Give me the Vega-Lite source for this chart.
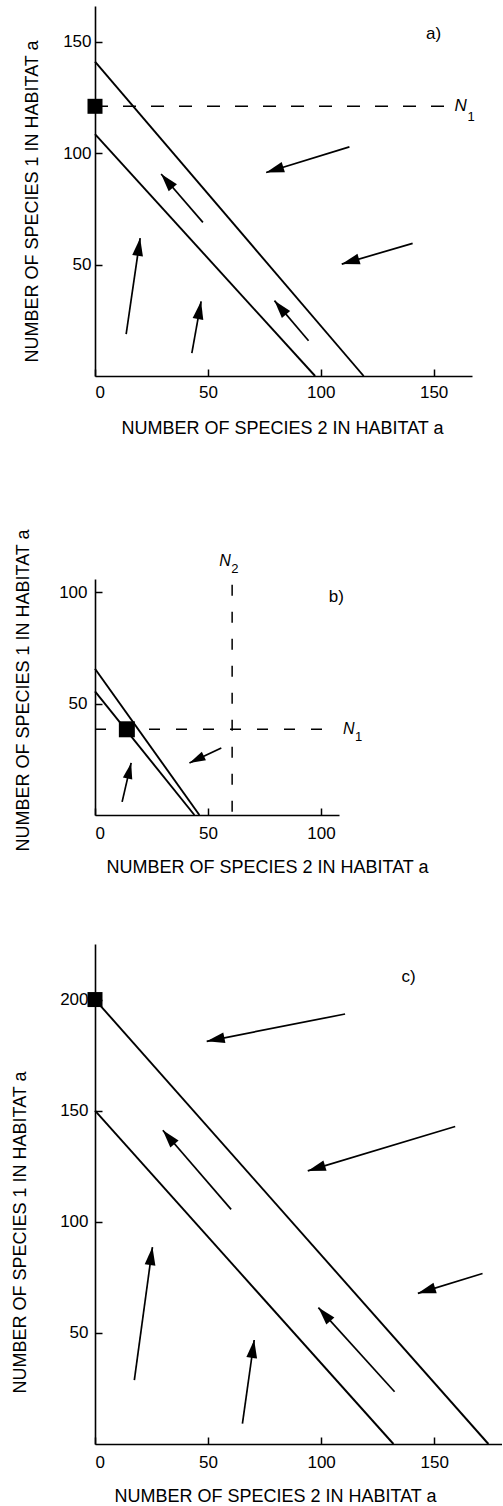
{
  "$schema": "https://vega.github.io/schema/vega-lite/v6.json",
  "background": "white",
  "padding": {"left": 11, "top": 6, "right": 0, "bottom": 0},
  "spacing": 68,
  "config": {
    "view": {"stroke": null},
    "axis": {
      "grid": false,
      "domainColor": "black", "domainWidth": 1.6,
      "tickColor": "black", "tickWidth": 1.5, "tickSize": -7,
      "labelFont": "Liberation Sans", "labelFontSize": 17, "labelColor": "black",
      "titleFont": "Liberation Sans", "titleFontSize": 18, "titleFontWeight": "normal", "titleColor": "black",
      "titleBaseline": "middle"
    },
    "text": {"font": "Liberation Sans", "color": "black"}
  },
  "datasets": {
    "isoclines": [
      {"panel": "a", "x": 0, "y": 141, "x2": 119, "y2": 0},
      {"panel": "a", "x": 0, "y": 108.5, "x2": 97.5, "y2": 0},
      {"panel": "b", "x": 0, "y": 65.7, "x2": 46.2, "y2": 0},
      {"panel": "b", "x": 0, "y": 55.5, "x2": 44, "y2": 0},
      {"panel": "c", "x": 0, "y": 200, "x2": 174, "y2": 0},
      {"panel": "c", "x": 0, "y": 150, "x2": 132, "y2": 0}
    ],
    "dashes": [
      {"panel": "a", "x": 0, "y": 121, "x2": 155.5, "y2": 121},
      {"panel": "b", "x": 0, "y": 38.5, "x2": 105.4, "y2": 38.5},
      {"panel": "b", "x": 60.7, "y": 103.4, "x2": 60.7, "y2": 0}
    ],
    "arrows": [
      {"panel": "a", "x": 75.8, "y": 91.3, "x2": 112.7, "y2": 102.8},
      {"panel": "a", "x": 29.3, "y": 90.6, "x2": 47.8, "y2": 68.9},
      {"panel": "a", "x": 109.3, "y": 50.2, "x2": 140.7, "y2": 59.5},
      {"panel": "a", "x": 20.0, "y": 61.9, "x2": 13.8, "y2": 18.8},
      {"panel": "a", "x": 47.0, "y": 33.5, "x2": 42.9, "y2": 10.3},
      {"panel": "a", "x": 79.5, "y": 33.8, "x2": 94.6, "y2": 15.8},
      {"panel": "b", "x": 41.8, "y": 23.4, "x2": 55.9, "y2": 30.1},
      {"panel": "b", "x": 16.0, "y": 23.4, "x2": 12.0, "y2": 5.9},
      {"panel": "c", "x": 49.4, "y": 181.2, "x2": 110.6, "y2": 193.5},
      {"panel": "c", "x": 94.1, "y": 122.9, "x2": 159.3, "y2": 142.9},
      {"panel": "c", "x": 30.0, "y": 141.2, "x2": 60.2, "y2": 105.6},
      {"panel": "c", "x": 142.8, "y": 67.8, "x2": 171.4, "y2": 76.7},
      {"panel": "c", "x": 25.4, "y": 88.6, "x2": 17.4, "y2": 28.7},
      {"panel": "c", "x": 98.8, "y": 61.4, "x2": 132.5, "y2": 23.5},
      {"panel": "c", "x": 70.4, "y": 46.8, "x2": 65.2, "y2": 9.2}
    ],
    "squares": [
      {"panel": "a", "x": 0, "y": 121},
      {"panel": "b", "x": 14.1, "y": 38.5},
      {"panel": "c", "x": 0, "y": 200}
    ],
    "labels": [
      {"panel": "a", "x": 150, "y": 153.4, "label": "a)"},
      {"panel": "b", "x": 106.8, "y": 97.8, "label": "b)"},
      {"panel": "c", "x": 138.7, "y": 210.1, "label": "c)"}
    ],
    "nlabels": [
      {"panel": "a", "x": 159.3, "y": 121, "n": "N", "sub": "1"},
      {"panel": "b", "x": 109.8, "y": 38.8, "n": "N", "sub": "1"},
      {"panel": "b", "x": 55, "y": 114.3, "n": "N", "sub": "2"}
    ]
  },
  "vconcat": [
    {
      "width": 377, "height": 370,
      "title": {"text": " ", "orient": "bottom", "fontSize": 12, "offset": 12},
      "encoding": {
        "x": {"field": "x", "type": "quantitative", "scale": {"domain": [0, 167], "nice": false, "zero": false},
          "axis": {"values": [0, 50, 100, 150], "labelPadding": 15, "title": "NUMBER OF SPECIES 2 IN HABITAT a", "titleX": 187, "titleY": 52}},
        "y": {"field": "y", "type": "quantitative", "scale": {"domain": [0, 166], "nice": false, "zero": false},
          "axis": {"values": [50, 100, 150], "labelPadding": 11, "title": "NUMBER OF SPECIES 1 IN HABITAT a", "titleX": -63, "titleY": 195}}
      },
      "layer": [
        {"data": {"name": "isoclines"}, "transform": [{"filter": "datum.panel === 'a'"}],
         "mark": {"type": "rule", "color": "black", "strokeWidth": 1.9}, "encoding": {"x2": {"field": "x2"}, "y2": {"field": "y2"}}},
        {"data": {"name": "dashes"}, "transform": [{"filter": "datum.panel === 'a'"}],
         "mark": {"type": "rule", "color": "black", "strokeWidth": 1.5, "strokeDash": [13, 15]}, "encoding": {"x2": {"field": "x2"}, "y2": {"field": "y2"}}},
        {"data": {"name": "arrows"}, "transform": [{"filter": "datum.panel === 'a'"}],
         "mark": {"type": "rule", "color": "black", "strokeWidth": 1.7}, "encoding": {"x2": {"field": "x2"}, "y2": {"field": "y2"}}},
        {"data": {"name": "arrows"}, "transform": [{"filter": "datum.panel === 'a'"}, {"calculate": "atan2(datum.x - datum.x2, datum.y - datum.y2) * 180 / PI", "as": "ang"}],
         "mark": {"type": "point", "shape": "M0,0L0.3,1L-0.3,1Z", "filled": true, "color": "black", "opacity": 1, "size": 1296, "strokeWidth": 0},
         "encoding": {"angle": {"field": "ang", "type": "quantitative", "scale": null}}},
        {"data": {"name": "squares"}, "transform": [{"filter": "datum.panel === 'a'"}],
         "mark": {"type": "point", "shape": "square", "filled": true, "color": "black", "opacity": 1, "size": 225}},
        {"data": {"name": "labels"}, "transform": [{"filter": "datum.panel === 'a'"}],
         "mark": {"type": "text", "fontSize": 17, "align": "center", "baseline": "middle"}, "encoding": {"text": {"field": "label"}}},
        {"data": {"name": "nlabels"}, "transform": [{"filter": "datum.panel === 'a'"}],
         "mark": {"type": "text", "fontSize": 17, "fontStyle": "italic", "align": "left", "baseline": "middle"}, "encoding": {"text": {"field": "n"}}},
        {"data": {"name": "nlabels"}, "transform": [{"filter": "datum.panel === 'a'"}],
         "mark": {"type": "text", "fontSize": 13, "align": "left", "baseline": "middle", "dx": 13, "dy": 11}, "encoding": {"text": {"field": "sub"}}}
      ]
    },
    {
      "width": 244, "height": 236,
      "encoding": {
        "x": {"field": "x", "type": "quantitative", "scale": {"domain": [0, 108], "nice": false, "zero": false},
          "axis": {"values": [0, 50, 100], "labelPadding": 17, "title": "NUMBER OF SPECIES 2 IN HABITAT a", "titleX": 172, "titleY": 52}},
        "y": {"field": "y", "type": "quantitative", "scale": {"domain": [0, 106], "nice": false, "zero": false},
          "axis": {"values": [50, 100], "labelPadding": 15, "title": "NUMBER OF SPECIES 1 IN HABITAT a", "titleX": -72, "titleY": 111}}
      },
      "layer": [
        {"data": {"name": "isoclines"}, "transform": [{"filter": "datum.panel === 'b'"}],
         "mark": {"type": "rule", "color": "black", "strokeWidth": 1.9}, "encoding": {"x2": {"field": "x2"}, "y2": {"field": "y2"}}},
        {"data": {"name": "dashes"}, "transform": [{"filter": "datum.panel === 'b'"}],
         "mark": {"type": "rule", "color": "black", "strokeWidth": 1.5, "strokeDash": [11, 16]}, "encoding": {"x2": {"field": "x2"}, "y2": {"field": "y2"}}},
        {"data": {"name": "arrows"}, "transform": [{"filter": "datum.panel === 'b'"}],
         "mark": {"type": "rule", "color": "black", "strokeWidth": 1.7}, "encoding": {"x2": {"field": "x2"}, "y2": {"field": "y2"}}},
        {"data": {"name": "arrows"}, "transform": [{"filter": "datum.panel === 'b'"}, {"calculate": "atan2(datum.x - datum.x2, datum.y - datum.y2) * 180 / PI", "as": "ang"}],
         "mark": {"type": "point", "shape": "M0,0L0.3,1L-0.3,1Z", "filled": true, "color": "black", "opacity": 1, "size": 1024, "strokeWidth": 0},
         "encoding": {"angle": {"field": "ang", "type": "quantitative", "scale": null}}},
        {"data": {"name": "squares"}, "transform": [{"filter": "datum.panel === 'b'"}],
         "mark": {"type": "point", "shape": "square", "filled": true, "color": "black", "opacity": 1, "size": 256}},
        {"data": {"name": "labels"}, "transform": [{"filter": "datum.panel === 'b'"}],
         "mark": {"type": "text", "fontSize": 17, "align": "center", "baseline": "middle"}, "encoding": {"text": {"field": "label"}}},
        {"data": {"name": "nlabels"}, "transform": [{"filter": "datum.panel === 'b'"}],
         "mark": {"type": "text", "fontSize": 16, "fontStyle": "italic", "align": "left", "baseline": "middle"}, "encoding": {"text": {"field": "n"}}},
        {"data": {"name": "nlabels"}, "transform": [{"filter": "datum.panel === 'b'"}],
         "mark": {"type": "text", "fontSize": 13, "align": "left", "baseline": "middle", "dx": 12, "dy": 8}, "encoding": {"text": {"field": "sub"}}}
      ]
    },
    {
      "width": 407, "height": 500,
      "encoding": {
        "x": {"field": "x", "type": "quantitative", "scale": {"domain": [0, 180], "nice": false, "zero": false},
          "axis": {"values": [0, 50, 100, 150], "labelPadding": 17, "title": "NUMBER OF SPECIES 2 IN HABITAT a", "titleX": 180, "titleY": 52}},
        "y": {"field": "y", "type": "quantitative", "scale": {"domain": [0, 225], "nice": false, "zero": false},
          "axis": {"values": [50, 100, 150, 200], "labelPadding": 14, "title": "NUMBER OF SPECIES 1 IN HABITAT a", "titleX": -75, "titleY": 288}}
      },
      "layer": [
        {"data": {"name": "isoclines"}, "transform": [{"filter": "datum.panel === 'c'"}],
         "mark": {"type": "rule", "color": "black", "strokeWidth": 1.9}, "encoding": {"x2": {"field": "x2"}, "y2": {"field": "y2"}}},
        {"data": {"name": "arrows"}, "transform": [{"filter": "datum.panel === 'c'"}],
         "mark": {"type": "rule", "color": "black", "strokeWidth": 1.7}, "encoding": {"x2": {"field": "x2"}, "y2": {"field": "y2"}}},
        {"data": {"name": "arrows"}, "transform": [{"filter": "datum.panel === 'c'"}, {"calculate": "atan2(datum.x - datum.x2, datum.y - datum.y2) * 180 / PI", "as": "ang"}],
         "mark": {"type": "point", "shape": "M0,0L0.3,1L-0.3,1Z", "filled": true, "color": "black", "opacity": 1, "size": 1296, "strokeWidth": 0},
         "encoding": {"angle": {"field": "ang", "type": "quantitative", "scale": null}}},
        {"data": {"name": "squares"}, "transform": [{"filter": "datum.panel === 'c'"}],
         "mark": {"type": "point", "shape": "square", "filled": true, "color": "black", "opacity": 1, "size": 225}},
        {"data": {"name": "labels"}, "transform": [{"filter": "datum.panel === 'c'"}],
         "mark": {"type": "text", "fontSize": 17, "align": "center", "baseline": "middle"}, "encoding": {"text": {"field": "label"}}}
      ]
    }
  ]
}
